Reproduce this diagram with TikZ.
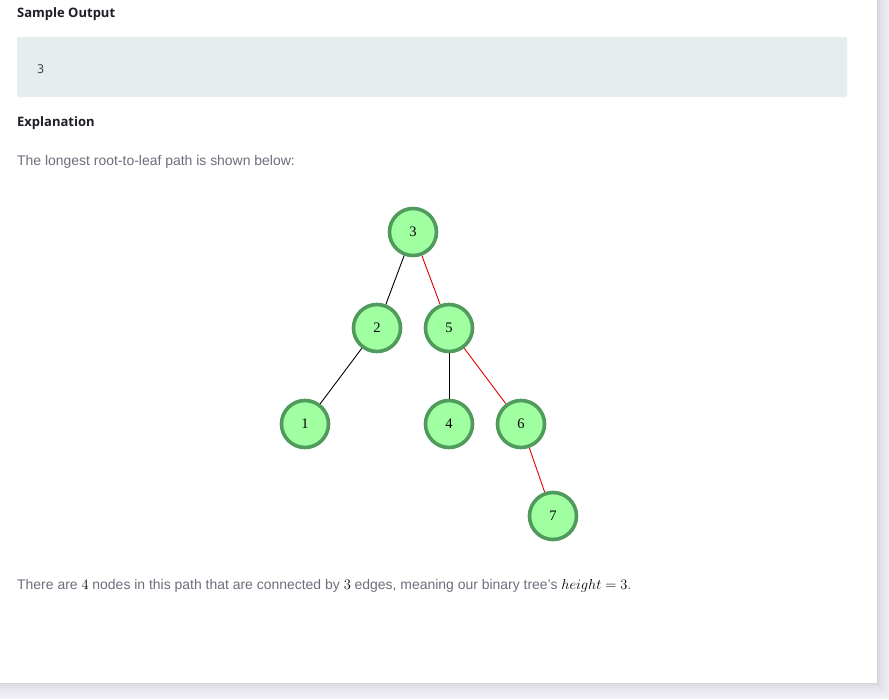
\documentclass[tikz,border=0pt]{standalone}
\usepackage{fontspec}
\setmainfont{Liberation Sans}
\newfontfamily\headfont{Open Sans}
\newfontfamily\codefont{DejaVu Sans Mono}
\newfontfamily\labelfont{Liberation Serif}
\definecolor{pagebg}{HTML}{F1F1F7}
\definecolor{codebg}{HTML}{E6EDEF}
\definecolor{bodytxt}{HTML}{6B6F7B}
\definecolor{headtxt}{HTML}{1E1E26}
\definecolor{nodefill}{HTML}{A0FFA0}
\definecolor{nodeborder}{HTML}{4F9A5C}
\definecolor{pathred}{HTML}{E00000}
\definecolor{shadowc}{HTML}{50506A}
\tikzset{
  treenode/.style={circle, draw=nodeborder, fill=nodefill, line width=3.6pt, minimum size=47pt, inner sep=0pt, font=\labelfont\fontsize{14.5}{14.5}\selectfont},
  edge/.style={draw=black, line width=0.9pt},
  redge/.style={draw=pathred, line width=0.9pt},
  heading/.style={anchor=base west, inner sep=0pt, text=headtxt, font=\headfont\bfseries\fontsize{13}{13}\selectfont},
  body/.style={anchor=base west, inner sep=0pt, text=bodytxt, font=\fontsize{13.95}{14}\selectfont},
}
\newcommand{\km}[1]{{\color{black}\fontsize{15}{15}\selectfont$#1$}}
\begin{document}
\begin{tikzpicture}[x=1pt,y=-1pt]
\useasboundingbox (0,0) rectangle (889,699);
\fill[pagebg] (0,0) rectangle (889,699);
% shadow
\foreach \i/\o in {14/0.015,11/0.02,8/0.025,5/0.03,3/0.035,1/0.04}{
  \fill[shadowc, opacity=\o] (0,0) rectangle (877+\i,683+\i);
}
\fill[white] (0,0) rectangle (877,683);
% code box
\fill[codebg, rounded corners=1.5pt] (17,37) rectangle (847,97);
\node[anchor=base west, inner sep=0pt, text=headtxt!80, font=\codefont\fontsize{12}{12}\selectfont] (out) at (37,73) {3};
\node[heading] (h1) at (17,17) {Sample Output};
\node[heading] (h2) at (17,126) {Explanation};
\node[body] (t1) at (17,165) {The longest root-to-leaf path is shown below:};
\node[body] (t2) at (17,589) {There are \km{4} nodes in this path that are connected by \km{3} edges, meaning our binary tree's \km{height=3}.};
% tree
\node[treenode] (n3) at (413,232) {3};
\node[treenode] (n2) at (377,328) {2};
\node[treenode] (n5) at (449,328) {5};
\node[treenode] (n1) at (305,424) {1};
\node[treenode] (n4) at (449,424) {4};
\node[treenode] (n6) at (521,424) {6};
\node[treenode] (n7) at (553,516) {7};
\draw[edge] (n3) -- (n2);
\draw[redge] (n3) -- (n5);
\draw[edge] (n2) -- (n1);
\draw[edge] (n5) -- (n4);
\draw[redge] (n5) -- (n6);
\draw[redge] (n6) -- (n7);
\end{tikzpicture}
\end{document}
